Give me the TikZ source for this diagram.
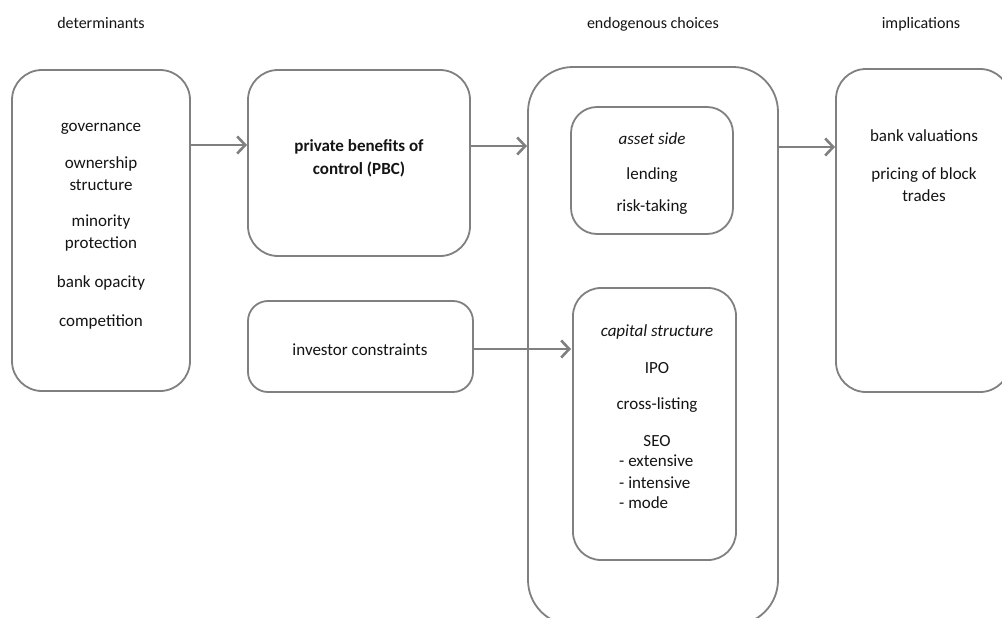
\documentclass[tikz,border=0pt]{standalone}
\usepackage{fontspec}
\setmainfont{Carlito}
\usetikzlibrary{arrows.meta}
\definecolor{boxgray}{RGB}{128,128,128}
\definecolor{txt}{RGB}{20,20,20}
\begin{document}
\begin{tikzpicture}[x=1pt,y=-1pt,
  box/.style={draw=boxgray, line width=1.8pt, inner sep=0pt, outer sep=0pt},
  lbl/.style={text=txt, inner sep=0pt, anchor=mid, yshift=-4pt, font=\fontsize{17}{22}\selectfont},
  hdr/.style={text=txt, inner sep=0pt, anchor=mid, yshift=-4pt, font=\fontsize{16}{20}\selectfont},
  arr/.style={draw=boxgray, line width=2.6pt, -{Straight Barb[length=8pt,width=17pt,line width=2.6pt]}}]
\useasboundingbox[fill=white] (0,0) rectangle (1002,618);
% headers
\node[hdr] (h1) at (101,22) {determinants};
\node[hdr] (h2) at (653,22) {endogenous choices};
\node[hdr] (h3) at (921,22) {implications};
% boxes
\node[box, rounded corners=30pt, minimum width=178pt, minimum height=321pt] (det) at (101,230.5) {};
\node[box, rounded corners=30pt, minimum width=222pt, minimum height=186pt] (pbc) at (359,163) {};
\node[box, rounded corners=20pt, minimum width=225pt, minimum height=91pt] (inv) at (360.5,346.5) {};
\node[box, rounded corners=45pt, minimum width=250pt, minimum height=558pt] (endo) at (653,346) {};
\node[box, rounded corners=26pt, minimum width=162pt, minimum height=127pt] (asset) at (652,170.5) {};
\node[box, rounded corners=28pt, minimum width=163pt, minimum height=272pt] (cap) at (654.5,424) {};
\node[box, rounded corners=30pt, minimum width=174pt, minimum height=323pt] (impl) at (923,230.5) {};
% determinants text
\node[lbl] (d1) at (101,125) {governance};
\node[lbl] (d2) at (101,162) {ownership};
\node[lbl] (d3) at (101,184) {structure};
\node[lbl] (d4) at (101,220) {minority};
\node[lbl] (d5) at (101,242) {protection};
\node[lbl] (d6) at (101,281) {bank opacity};
\node[lbl] (d7) at (101,320) {competition};
% PBC text
\node[lbl, font=\fontsize{17}{22}\selectfont\bfseries] (p1) at (359,145) {private benefits of};
\node[lbl, font=\fontsize{17}{22}\selectfont\bfseries] (p2) at (359,168) {control (PBC)};
% investor
\node[lbl] (i1) at (360,349) {investor constraints};
% asset side
\node[lbl, font=\fontsize{17}{22}\selectfont\itshape] (a1) at (652,138) {asset side};
\node[lbl] (a2) at (652,173) {lending};
\node[lbl] (a3) at (652,205) {risk-taking};
% capital structure
\node[lbl, font=\fontsize{17}{22}\selectfont\itshape] (c1) at (657,330) {capital structure};
\node[lbl] (c2) at (657,367) {IPO};
\node[lbl] (c3) at (657,403) {cross-listing};
\node[lbl] (c4) at (657,440) {SEO};
\node[lbl, anchor=mid west] (c5) at (619,460) {- extensive};
\node[lbl, anchor=mid west] (c6) at (619,482) {- intensive};
\node[lbl, anchor=mid west] (c7) at (619,502) {- mode};
% implications
\node[lbl] (m1) at (924,135) {bank valuations};
\node[lbl] (m2) at (924,173) {pricing of block};
\node[lbl] (m3) at (924,195) {trades};
% arrows
\draw[arr] (det.east |- 0,145) -- ([xshift=-1pt]pbc.west |- 0,145);
\draw[arr] (pbc.east |- 0,146) -- ([xshift=-1pt]endo.west |- 0,146);
\draw[arr] (endo.east |- 0,147) -- ([xshift=-1pt]impl.west |- 0,147);
\draw[arr] (inv.east |- 0,349) -- ([xshift=-2pt]cap.west |- 0,349);
\end{tikzpicture}
\end{document}
